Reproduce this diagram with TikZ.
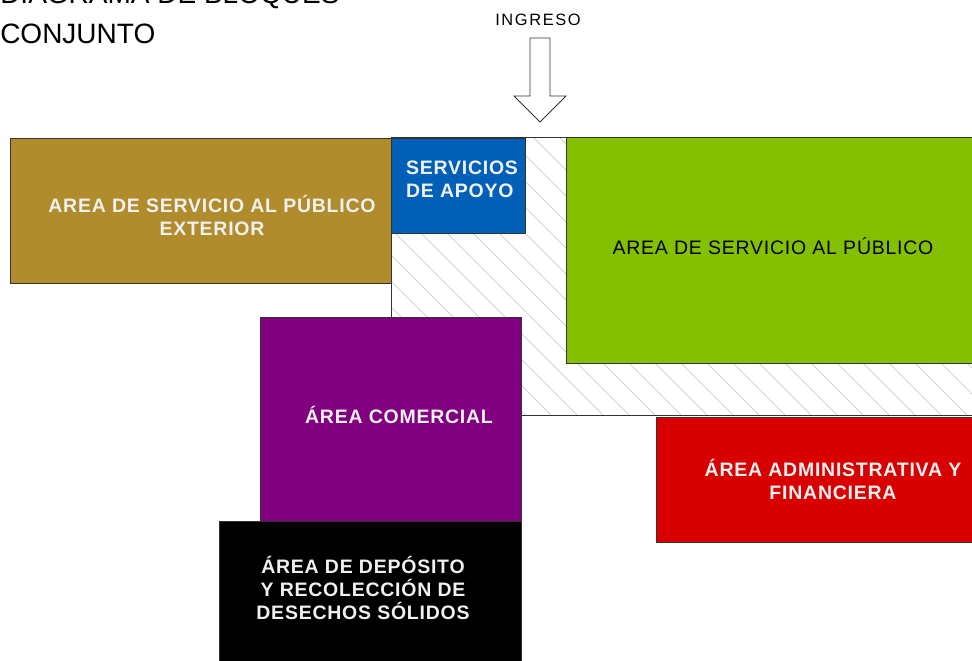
\documentclass[tikz,border=0pt]{standalone}
\usepackage{fontspec}
\setmainfont{Liberation Sans}
\newfontfamily\thinfont[LetterSpace=10]{Liberation Sans}
\newfontfamily\greenfont[LetterSpace=4]{Liberation Sans}
\newfontfamily\labelfont[LetterSpace=4]{Liberation Sans}

\definecolor{goldbox}{RGB}{176,140,44}
\definecolor{bluebox}{RGB}{0,96,184}
\definecolor{greenbox}{RGB}{132,192,0}
\definecolor{purplebox}{RGB}{128,0,128}
\definecolor{redbox}{RGB}{216,0,0}
\definecolor{labelwhite}{RGB}{240,240,240}

\begin{document}
\begin{tikzpicture}[
            x=0.75pt, y=-0.75pt,
            block/.style={
                draw=black!80,
                line width=0.6pt,
                inner sep=0pt,
                anchor=north west
            },
            blocklabel/.style={
                text=labelwhite,
                font=\fontsize{14.6}{17.25}\selectfont\labelfont\bfseries,
                align=center
            },
            thinlabel/.style={
                font=\fontsize{12.3}{14}\selectfont\thinfont
            },
            hatchline/.style={draw=black!25, line width=0.5pt}
        ]
        \useasboundingbox (0,0) rectangle (972,661);

        % title, cut at the top
        \node[anchor=base west, inner sep=0pt, font=\fontsize{21}{25}\selectfont] (title1) at (0,3) {DIAGRAMA DE BLOQUES};
        \node[anchor=base west, inner sep=0pt, font=\fontsize{21}{25}\selectfont] (title2) at (0,43) {CONJUNTO};

        % entrance
        \node[thinlabel] (ingreso) at (538,20) {INGRESO};
        \draw[black!80, line width=0.6pt, fill=white]
            (530,38) -- (550,38) -- (550,96) -- (566,96) -- (540,122)
            -- (514,96) -- (530,96) -- cycle;

        % hatched circulation
        \node[block, minimum width=581*0.75pt, minimum height=278*0.75pt] (hall) at (391,137) {};
        \begin{scope}
            \clip (391,137) rectangle (972,415);
            \foreach \k in {-300,-274,...,600}
                \draw[hatchline] (391+\k,137) -- (391+\k+300,437);
        \end{scope}
        \draw[black!80, line width=0.6pt] (hall.north west) rectangle (hall.south east);

        % blocks
        \node[block, fill=goldbox, minimum width=381*0.75pt, minimum height=145*0.75pt] (exterior) at (10,138) {};
        \node[blocklabel] at (212,215) {AREA DE SERVICIO AL PÚBLICO\\EXTERIOR};

        \node[block, fill=bluebox, minimum width=134*0.75pt, minimum height=95*0.75pt] (apoyo) at (391,138) {};
        \node[blocklabel, align=left] at (462,179) {SERVICIOS\\DE APOYO};

        \node[block, fill=greenbox, minimum width=406*0.75pt, minimum height=226*0.75pt] (publico) at (566,137) {};
        \node[font=\fontsize{14.6}{17}\selectfont\greenfont] at (773,246) {AREA DE SERVICIO AL PÚBLICO};

        \node[block, fill=purplebox, minimum width=261*0.75pt, minimum height=204*0.75pt] (comercial) at (260,317) {};
        \node[blocklabel] at (399,415) {ÁREA COMERCIAL};

        \node[block, fill=redbox, minimum width=316*0.75pt, minimum height=125*0.75pt] (admin) at (656,417) {};
        \node[blocklabel] at (833,479) {ÁREA ADMINISTRATIVA Y\\FINANCIERA};

        \node[block, fill=black, minimum width=302*0.75pt, minimum height=150*0.75pt] (deposito) at (219,521) {};
        \node[blocklabel] at (363,588) {ÁREA DE DEPÓSITO\\Y RECOLECCIÓN DE\\DESECHOS SÓLIDOS};
        \end{tikzpicture}
\end{document}
